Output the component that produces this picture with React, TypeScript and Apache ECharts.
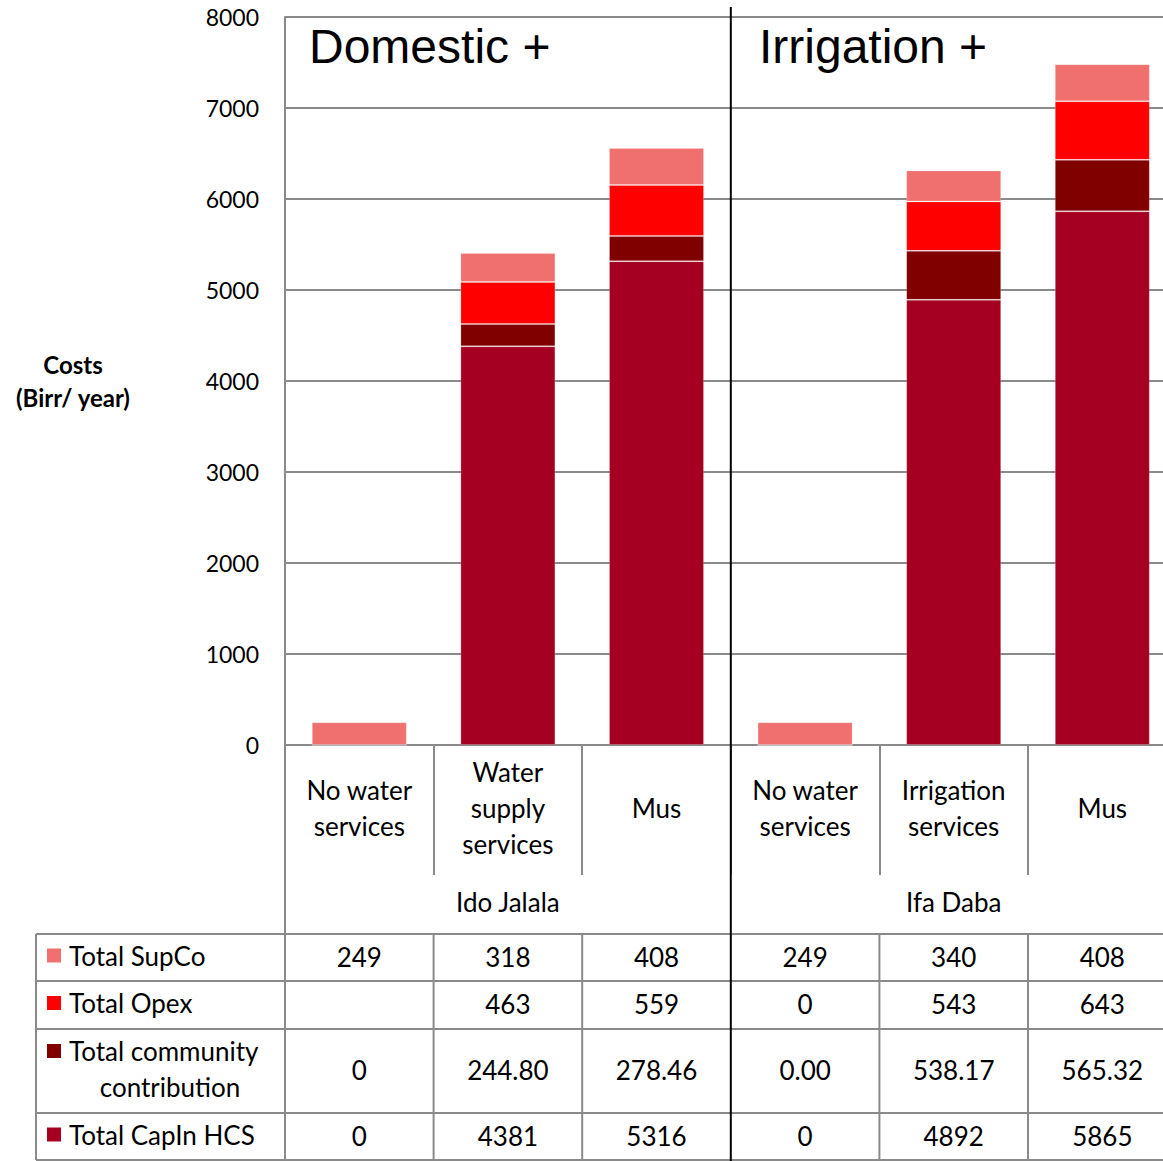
import React, { useEffect, useRef } from "react";
import * as echarts from "echarts";

const categories = [
  "No water\nservices",
  "Water\nsupply\nservices",
  "Mus",
  "No water\nservices",
  "Irrigation\nservices",
  "Mus",
];
const groups = ["Ido Jalala", "Ifa Daba"];
const titles = ["Domestic +", "Irrigation +"];

const supCo = [249, 318, 408, 249, 340, 408];
const opex: (number | null)[] = [null, 463, 559, 0, 543, 643];
const communityLabels = ["0", "244.80", "278.46", "0.00", "538.17", "565.32"];
const community = communityLabels.map(Number);
const capIn = [0, 4381, 5316, 0, 4892, 5865];

const seriesNames = ["Total SupCo", "Total Opex", "Total community\ncontribution", "Total CapIn HCS"];
const seriesColors = ["#F07070", "#FF0000", "#800000", "#A50021"];

const yTicks = { min: 0, max: 8000, interval: 1000 };

const GRAY = "#8a8a8a";
const FONT = "Lato";

export default function App() {
  const ref = useRef<HTMLDivElement>(null);

  useEffect(() => {
    if (!ref.current) return;
    const chart = echarts.init(ref.current, undefined, { renderer: "svg" });

    const gridLeft = 285;
    const gridTop = 17;
    const catW = 148.6;
    const gridW = catW * categories.length;
    const gridH = 728;
    const axisY = gridTop + gridH;

    const tableTop = 934;
    const rowLines = [934, 981, 1029, 1113, 1160];
    const tableLeft = 36;
    const tableRight = gridLeft + gridW;

    const graphics: any[] = [];
    const line = (x1: number, y1: number, x2: number, y2: number, color = GRAY, w = 2, z = 10) =>
      graphics.push({
        type: "line",
        z,
        shape: { x1, y1, x2, y2 },
        style: { stroke: color, lineWidth: w },
        silent: true,
      });

    rowLines.forEach((y) => line(tableLeft, y, tableRight, y));
    line(tableLeft, tableTop, tableLeft, 1160);
    line(gridLeft, axisY, gridLeft, 1160);
    for (let k = 1; k < categories.length; k++) {
      const x = gridLeft + k * catW;
      if (k === 3) continue;
      line(x, tableTop, x, 1160);
    }
    line(gridLeft + 3 * catW, 7, gridLeft + 3 * catW, 1161, "#000", 2, 50);

    groups.forEach((g, i) => {
      graphics.push({
        type: "text",
        x: gridLeft + (i * 3 + 1.5) * catW,
        y: 902,
        style: { text: g, font: `26px ${FONT}`, fill: "#000", textAlign: "center", textVerticalAlign: "middle" },
      });
    });
    titles.forEach((t, i) => {
      graphics.push({
        type: "text",
        x: i === 0 ? 309 : 759,
        y: 46,
        style: { text: t, font: "48px 'Liberation Sans'", fill: "#000", textAlign: "left", textVerticalAlign: "middle" },
      });
    });
    graphics.push({
      type: "text",
      x: 73,
      y: 381,
      style: {
        text: "Costs\n(Birr/ year)",
        font: `bold 24px ${FONT}`,
        lineHeight: 33,
        fill: "#000",
        textAlign: "center",
        textVerticalAlign: "middle",
      },
    });

    const rowData: string[][] = [
      supCo.map((v) => String(v)),
      opex.map((v) => (v === null ? "" : String(v))),
      communityLabels,
      capIn.map((v) => String(v)),
    ];
    rowData.forEach((row, r) => {
      const yc = (rowLines[r] + rowLines[r + 1]) / 2 - 2;
      const nameLines = seriesNames[r].split("\n");
      const firstLineY = nameLines.length > 1 ? yc - 18 : yc;
      graphics.push({
        type: "rect",
        shape: { x: 47, y: firstLineY - 7, width: 14, height: 14 },
        style: { fill: seriesColors[r] },
      });
      graphics.push({
        type: "text",
        x: 69,
        y: firstLineY,
        style: { text: nameLines[0], font: `26px ${FONT}`, fill: "#000", textAlign: "left", textVerticalAlign: "middle" },
      });
      if (nameLines.length > 1) {
        graphics.push({
          type: "text",
          x: 170,
          y: yc + 18,
          style: { text: nameLines[1], font: `26px ${FONT}`, fill: "#000", textAlign: "center", textVerticalAlign: "middle" },
        });
      }
      row.forEach((cell, c) => {
        graphics.push({
          type: "text",
          x: gridLeft + (c + 0.5) * catW,
          y: yc + 1,
          style: { text: cell, font: `26px ${FONT}`, fill: "#000", textAlign: "center", textVerticalAlign: "middle" },
        });
      });
    });

    const barSeries = [
      { name: seriesNames[3], data: capIn, color: seriesColors[3] },
      { name: seriesNames[2], data: community, color: seriesColors[2] },
      { name: seriesNames[1], data: opex, color: seriesColors[1] },
      { name: seriesNames[0], data: supCo, color: seriesColors[0] },
    ].map((s) => ({
      type: "bar",
      name: s.name,
      stack: "total",
      data: s.data,
      barWidth: 95,
      itemStyle: { color: s.color, borderColor: "rgba(255,255,255,0.2)", borderWidth: 1 },
      emphasis: { disabled: true },
    }));

    chart.setOption({
      animation: false,
      textStyle: { fontFamily: FONT },
      grid: { left: gridLeft, top: gridTop, width: gridW, height: gridH, containLabel: false },
      xAxis: {
        type: "category",
        data: categories,
        axisLine: { show: true, lineStyle: { color: GRAY, width: 2 } },
        axisTick: { show: true, interval: 0, length: 130, lineStyle: { color: GRAY, width: 2 } },
        axisLabel: {
          interval: 0,
          margin: 63,
          verticalAlign: "middle",
          fontSize: 26,
          lineHeight: 36,
          color: "#000",
          fontFamily: FONT,
        },
      },
      yAxis: {
        type: "value",
        min: yTicks.min,
        max: yTicks.max,
        interval: yTicks.interval,
        axisLine: { show: true, lineStyle: { color: GRAY, width: 2 } },
        axisTick: { show: false },
        splitLine: { show: true, lineStyle: { color: GRAY, width: 2 } },
        axisLabel: {
          margin: 26,
          fontSize: 23,
          color: "#000",
          fontFamily: FONT,
          formatter: (v: number) => String(v),
        },
      },
      series: barSeries,
      graphic: graphics,
    });

    return () => chart.dispose();
  }, []);

  return (
    <div
      ref={ref}
      style={{ position: "fixed", left: 0, top: 0, width: 1177, height: 1161, background: "#fff" }}
    />
  );
}
